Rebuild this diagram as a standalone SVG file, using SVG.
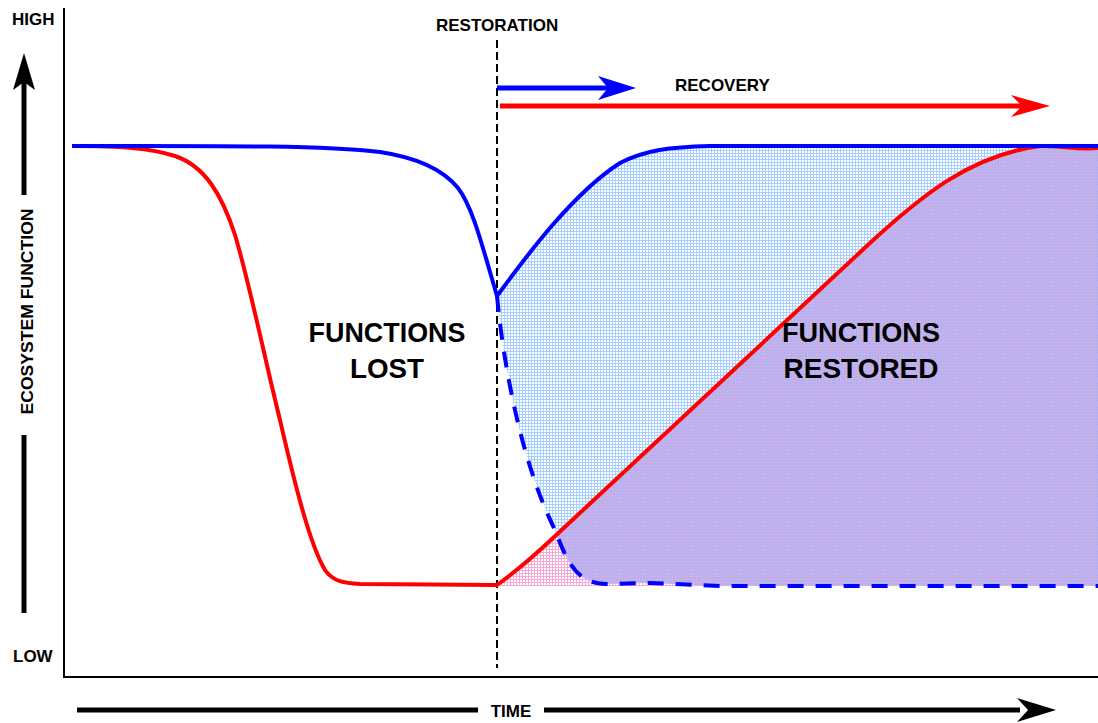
<svg xmlns="http://www.w3.org/2000/svg" width="1098" height="723" viewBox="0 0 1098 723">
<style>
.lbl{font-family:"Liberation Sans",Arial,sans-serif;font-weight:bold;fill:#000;font-size:17px}
.big{font-family:"Liberation Sans",Arial,sans-serif;font-weight:bold;fill:#000;font-size:28px;text-anchor:middle}
.ax{stroke:#000;stroke-width:2;fill:none}
.blk{fill:#000}
</style>
<defs>
<pattern id="pBlue" width="3" height="3" patternUnits="userSpaceOnUse">
<rect width="3" height="3" fill="#fff"/>
<rect width="3" height="1" fill="#a8d0ff"/>
<rect width="1" height="3" fill="#a8d0ff"/>
</pattern>
<pattern id="pPink" width="3" height="3" patternUnits="userSpaceOnUse">
<rect width="3" height="3" fill="#fff"/>
<rect width="3" height="1" fill="#f6a8d8"/>
<rect width="1" height="3" fill="#f6a8d8"/>
</pattern>
<pattern id="pMix" width="3" height="3" patternUnits="userSpaceOnUse">
<rect width="3" height="3" fill="#a9b4f5"/>
<rect width="3" height="1" fill="#d2aee6"/>
<rect width="1" height="3" fill="#d2aee6"/>
</pattern>
<clipPath id="clipBlue">
<path d="M497,296 C520,265 570,195 620,163 C645,150 670,147 710,146 L1098,146 L1098,586 L720,586 L650,583 L605,584 C578,583 568,565 555,530 C525,470 505,380 497,296 Z"/>
</clipPath>
</defs>

<g id="fills">
<path id="pinkArea" fill="url(#pPink)" d="M497,585 C515,572 535,555 553,538 L870,243 C920,197 970,155 1040,146 C1060,145 1075,150 1098,148 L1098,586 L497,586 Z"/>
<path id="blueArea" fill="url(#pBlue)" d="M497,296 C520,265 570,195 620,163 C645,150 670,147 710,146 L1098,146 L1098,586 L720,586 L650,583 L605,584 C578,583 568,565 555,530 C525,470 505,380 497,296 Z"/>
<path id="mixArea" fill="url(#pMix)" clip-path="url(#clipBlue)" d="M497,585 C515,572 535,555 553,538 L870,243 C920,197 970,155 1040,146 C1060,145 1075,150 1098,148 L1098,586 L497,586 Z"/>
</g>

<g id="axes">
<line class="ax" x1="64" y1="8" x2="64" y2="678"/>
<line class="ax" x1="63" y1="677" x2="1098" y2="677"/>
<line x1="497" y1="40" x2="497" y2="668" stroke="#000" stroke-width="2" stroke-dasharray="8,4"/>
</g>

<g id="connectors">
<path id="blueDashed" fill="none" stroke="#0000ff" stroke-width="4" stroke-dasharray="16,12" d="M497,296 C505,380 525,470 555,530 C568,565 578,583 605,584 L650,583 L720,586 L1098,586"/>
<path id="redCurve" fill="none" stroke="#ff0000" stroke-width="4" stroke-linejoin="round" d="M72,146 C120,146 150,148 175,156 C205,166 222,195 235,235 C250,285 265,360 280,420 C295,485 310,545 325,570 C333,582 345,583 360,584 L497,585 C515,572 535,555 553,538 L870,243 C920,197 970,155 1040,146 C1060,145 1075,150 1098,148"/>
<path id="blueCurve" fill="none" stroke="#0000ff" stroke-width="4" stroke-linejoin="round" d="M72,146 C200,146 320,145 380,152 C420,158 445,172 458,188 C472,206 482,245 490,272 L497,296 C520,265 570,195 620,163 C645,150 670,147 710,146 L1098,146"/>
</g>

<g id="arrows">
<rect x="497" y="85.5" width="112" height="5" fill="#0000ff"/>
<polygon fill="#0000ff" points="636,88 598,76 608,88 598,100"/>
<rect x="500" y="103.5" width="524" height="5" fill="#ff0000"/>
<polygon fill="#ff0000" points="1050,106 1011,95 1022,106 1011,117"/>
<rect x="77" y="707.5" width="401" height="5" class="blk"/>
<rect x="544" y="707.5" width="476" height="5" class="blk"/>
<polygon class="blk" points="1056,710 1017,698 1028,710 1017,722"/>
<rect x="21.5" y="80" width="5" height="115" class="blk"/>
<polygon class="blk" points="24,53 13,90 24,82 35,90"/>
<rect x="21.5" y="435" width="5" height="178" class="blk"/>
</g>

<g id="labels">
<text class="lbl" x="12" y="25">HIGH</text>
<text class="lbl" x="13" y="662">LOW</text>
<text class="lbl" x="436" y="31">RESTORATION</text>
<text class="lbl" x="675" y="91">RECOVERY</text>
<text class="lbl" x="511" y="717" text-anchor="middle">TIME</text>
<text class="lbl" transform="translate(33,311.5) rotate(-90)" text-anchor="middle" textLength="206" lengthAdjust="spacingAndGlyphs">ECOSYSTEM FUNCTION</text>
<text class="big" x="387" y="342" textLength="157" lengthAdjust="spacingAndGlyphs">FUNCTIONS</text>
<text class="big" x="387" y="378" textLength="74" lengthAdjust="spacingAndGlyphs">LOST</text>
<text class="big" x="861" y="342" textLength="158" lengthAdjust="spacingAndGlyphs">FUNCTIONS</text>
<text class="big" x="861" y="378" textLength="155" lengthAdjust="spacingAndGlyphs">RESTORED</text>
</g>
</svg>
